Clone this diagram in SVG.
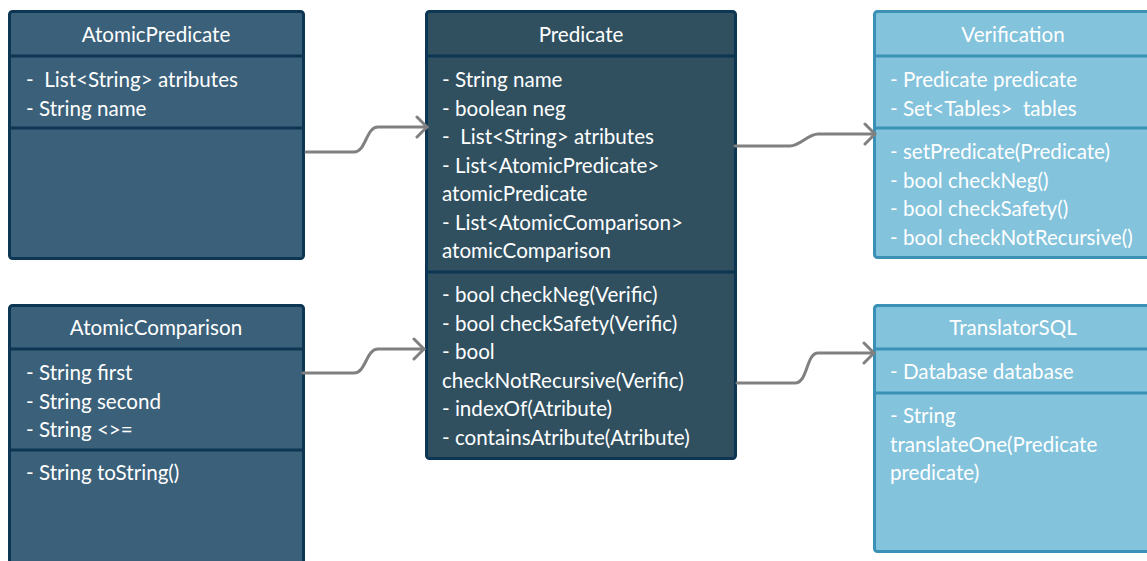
<svg xmlns="http://www.w3.org/2000/svg" width="1147" height="561" viewBox="0 0 1147 561">
<style>
text{font-family:Lato,"Open Sans","Liberation Sans",sans-serif;font-size:20.6px;fill:#ffffff}
.hd{text-anchor:middle}
.dk{fill:#3b6079;stroke:#0c3653;stroke-width:3}
.dk2{fill:#30505f;stroke:#0c3653;stroke-width:3}
.lt{fill:#83c3dc;stroke:#3a91b5;stroke-width:3}
.dl{stroke:#0c3653;stroke-width:3}
.ll{stroke:#3a91b5;stroke-width:3}
.cn{fill:none;stroke:#808080;stroke-width:3;stroke-linecap:round;stroke-linejoin:round}
</style>
<defs>
<marker id="arr" viewBox="0 0 14 24" refX="12" refY="12" markerWidth="14" markerHeight="24" markerUnits="userSpaceOnUse" orient="auto">
<path d="M2,2 L12,12 L2,22" fill="none" stroke="#808080" stroke-width="3" stroke-linecap="round"/>
</marker>
</defs>
<rect width="1147" height="561" fill="#ffffff"/>
<g id="AtomicPredicate">
<rect class="dk" x="9.5" y="11.5" width="294" height="247" rx="3"/>
<line class="dl" x1="9.5" y1="56" x2="303.5" y2="56"/>
<line class="dl" x1="9.5" y1="128" x2="303.5" y2="128"/>
<text class="hd" x="156" y="42">AtomicPredicate</text>
<text x="26" y="87" xml:space="preserve">-  List&lt;String&gt; atributes</text>
<text x="26" y="115.5">- String name</text>
</g>
<g id="AtomicComparison">
<rect class="dk" x="9.5" y="305.5" width="294" height="270" rx="3"/>
<line class="dl" x1="9.5" y1="349" x2="303.5" y2="349"/>
<line class="dl" x1="9.5" y1="450" x2="303.5" y2="450"/>
<text class="hd" x="156" y="335">AtomicComparison</text>
<text x="26" y="380">- String first</text>
<text x="26" y="408.5">- String second</text>
<text x="26" y="437">- String &lt;&gt;=</text>
<text x="26" y="480">- String toString()</text>
</g>
<g id="Predicate">
<rect class="dk2" x="426.5" y="11.5" width="309" height="447" rx="3"/>
<line class="dl" x1="426.5" y1="56" x2="735.5" y2="56"/>
<line class="dl" x1="426.5" y1="272" x2="735.5" y2="272"/>
<text class="hd" x="581" y="42">Predicate</text>
<text x="442" y="87">- String name</text>
<text x="442" y="115.5">- boolean neg</text>
<text x="442" y="144" xml:space="preserve">-  List&lt;String&gt; atributes</text>
<text x="442" y="172.5">- List&lt;AtomicPredicate&gt;</text>
<text x="442" y="201">atomicPredicate</text>
<text x="442" y="229.5">- List&lt;AtomicComparison&gt;</text>
<text x="442" y="258">atomicComparison</text>
<text x="442" y="302">- bool checkNeg(Verific)</text>
<text x="442" y="330.5">- bool checkSafety(Verific)</text>
<text x="442" y="359">- bool</text>
<text x="442" y="387.5">checkNotRecursive(Verific)</text>
<text x="442" y="416">- indexOf(Atribute)</text>
<text x="442" y="444.5">- containsAtribute(Atribute)</text>
</g>
<g id="Verification">
<rect class="lt" x="874.5" y="11.5" width="278" height="246" rx="3"/>
<line class="ll" x1="874.5" y1="56" x2="1152" y2="56"/>
<line class="ll" x1="874.5" y1="128" x2="1152" y2="128"/>
<text class="hd" x="1013" y="42">Verification</text>
<text x="890" y="87">- Predicate predicate</text>
<text x="890" y="115.5" xml:space="preserve">- Set&lt;Tables&gt;  tables</text>
<text x="890" y="159">- setPredicate(Predicate)</text>
<text x="890" y="187.5">- bool checkNeg()</text>
<text x="890" y="216">- bool checkSafety()</text>
<text x="890" y="244.5">- bool checkNotRecursive()</text>
</g>
<g id="TranslatorSQL">
<rect class="lt" x="874.5" y="305.5" width="278" height="246" rx="3"/>
<line class="ll" x1="874.5" y1="349" x2="1152" y2="349"/>
<line class="ll" x1="874.5" y1="393" x2="1152" y2="393"/>
<text class="hd" x="1013" y="335">TranslatorSQL</text>
<text x="890" y="379">- Database database</text>
<text x="890" y="423">- String</text>
<text x="890" y="451.5">translateOne(Predicate</text>
<text x="890" y="480">predicate)</text>
</g>
<g id="connectors">
<path class="cn" d="M306,152 L354,152 C366,152 366,127 378,127 L427,127" marker-end="url(#arr)"/>
<path class="cn" d="M303,373 L354,373 C366,373 366,349 378,349 L424,349" marker-end="url(#arr)"/>
<path class="cn" d="M735,146 L790,146 C800,146 808,134 818,134 L875,134" marker-end="url(#arr)"/>
<path class="cn" d="M737,383 L795,383 C808,383 806,353 818,353 L874,353" marker-end="url(#arr)"/>
</g>
</svg>
